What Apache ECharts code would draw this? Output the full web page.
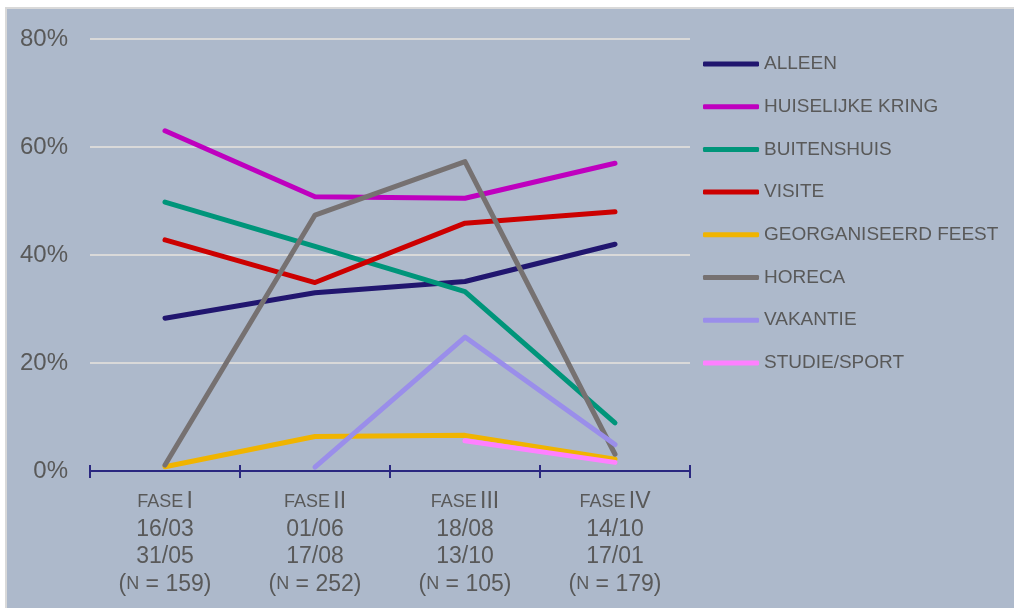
<!DOCTYPE html>
<html>
<head>
<meta charset="utf-8">
<script src="https://cdn.jsdelivr.net/npm/echarts@6/dist/echarts.min.js"></script>
<style>
html,body{margin:0;padding:0;background:#fff;}
#bg{position:absolute;left:5px;top:7px;width:1009px;height:601px;background:#ADB9CB;border-left:2px solid #D9D9D9;border-top:2px solid #D9D9D9;box-sizing:border-box;}
#chart{position:absolute;left:0;top:0;width:1014px;height:608px;}
</style>
</head>
<body>
<div id="bg"></div>
<div id="chart"></div>
<script>
const phases = ['I', 'II', 'III', 'IV'];
const startDates = ['16/03', '01/06', '18/08', '14/10'];
const endDates = ['31/05', '17/08', '13/10', '17/01'];
const nValues = [159, 252, 105, 179];
const yTicks = [0, 20, 40, 60, 80];

const seriesNames = ['ALLEEN', 'HUISELIJKE KRING', 'BUITENSHUIS', 'VISITE', 'GEORGANISEERD FEEST', 'HORECA', 'VAKANTIE', 'STUDIE/SPORT'];
const alleen = [28.3, 33.0, 35.1, 42.0];
const huiselijkeKring = [63.0, 50.8, 50.5, 57.0];
const buitenshuis = [49.8, 41.6, 33.2, 8.9];
const visite = [42.8, 34.9, 45.9, 48.0];
const georganiseerdFeest = [0.8, 6.4, 6.6, 2.2];
const horeca = [1.1, 47.4, 57.3, 3.1];
const vakantie = [null, 0.7, 24.8, 4.9];
const studieSport = [null, null, 5.6, 1.6];
const seriesData = [alleen, huiselijkeKring, buitenshuis, visite, georganiseerdFeest, horeca, vakantie, studieSport];
const seriesColors = ['#21166F', '#BF00BF', '#00957A', '#CC0000', '#F0B400', '#767171', '#9A8EEA', '#FF80FF'];

const categories = phases.map((p, i) =>
  '{sc|FASE} {n|' + p + '}\n{n|' + startDates[i] + '}\n{n|' + endDates[i] + '}\n{n|(}{sc|N}{n| = ' + nValues[i] + ')}'
);

const FONT = 'Liberation Sans, Arial, sans-serif';
const chart = echarts.init(document.getElementById('chart'));
chart.setOption({
  animation: false,
  backgroundColor: 'transparent',
  textStyle: { fontFamily: FONT },
  grid: { left: 90, right: 324, top: 39, bottom: 137 },
  legend: {
    orient: 'vertical',
    left: 698,
    top: 49,
    itemWidth: 56,
    itemHeight: 5,
    itemGap: 22.7,
    icon: 'roundRect',
    selectedMode: false,
    textStyle: { color: '#595959', fontSize: 19, lineHeight: 20, fontFamily: FONT },
    data: seriesNames
  },
  xAxis: [{
    type: 'category',
    data: categories,
    position: 'bottom',
    boundaryGap: true,
    axisLine: { show: true, lineStyle: { color: '#2A2880', width: 2 } },
    axisTick: { show: true, inside: false, length: 7, lineStyle: { color: '#2A2880', width: 2 } },
    axisLabel: {
      margin: 17,
      color: '#595959',
      interval: 0,
      rich: {
        sc: { fontSize: 18, lineHeight: 27.5, color: '#595959', fontFamily: FONT },
        n: { fontSize: 23, lineHeight: 27.5, color: '#595959', fontFamily: FONT }
      }
    },
    splitLine: { show: false }
  }, {
    type: 'category',
    data: categories,
    position: 'bottom',
    boundaryGap: true,
    axisLine: { show: false },
    axisTick: { show: true, inside: true, length: 6, lineStyle: { color: '#2A2880', width: 2 } },
    axisLabel: { show: false },
    splitLine: { show: false }
  }],
  yAxis: {
    type: 'value',
    min: yTicks[0],
    max: yTicks[yTicks.length - 1],
    interval: 20,
    axisLine: { show: false },
    axisTick: { show: false },
    axisLabel: { formatter: '{value}%', color: '#595959', fontSize: 24, margin: 22, padding: [4, 0, 0, 0] },
    splitLine: { lineStyle: { color: '#D9D9D9', width: 2 } }
  },
  series: seriesNames.map((name, i) => ({
    name: name,
    type: 'line',
    xAxisIndex: 0,
    data: seriesData[i],
    color: seriesColors[i],
    symbol: 'none',
    connectNulls: false,
    lineStyle: { width: 5, color: seriesColors[i], cap: 'round', join: 'round' },
    emphasis: { disabled: true }
  }))
});
</script>
</body>
</html>
